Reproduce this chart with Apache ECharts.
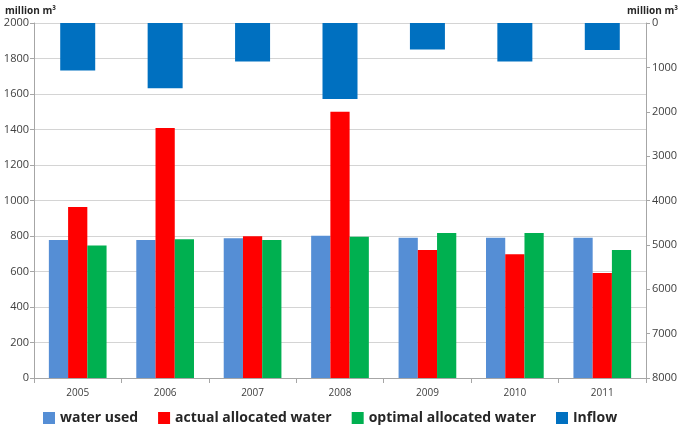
<!DOCTYPE html>
<html>
<head>
<meta charset="utf-8">
<script src="https://cdn.jsdelivr.net/npm/echarts@6/dist/echarts.min.js"></script>
<style>html,body{margin:0;padding:0;background:#fff;}#c{width:685px;height:428px;}</style>
</head>
<body>
<div id="c"></div>
<script>
var years = ['2005','2006','2007','2008','2009','2010','2011'];
var waterUsed = [778, 778, 787, 802, 790, 790, 790];
var actualAllocated = [963, 1408, 798, 1500, 721, 697, 592];
var optimalAllocated = [746, 781, 777, 796, 817, 817, 721];
var inflow = [1070, 1470, 870, 1710, 595, 870, 610];
var leftTicks = {min: 0, max: 2000, interval: 200};
var rightTicks = {min: 0, max: 8000, interval: 1000};

var chart = echarts.init(document.getElementById('c'), null, {renderer: 'canvas'});
var font = 'Open Sans, Liberation Sans, sans-serif';
var axisColor = '#a6a6a6';
var labelColor = '#404040';
var plain = function (v) { return String(v); };
chart.setOption({
  animation: false,
  backgroundColor: '#fff',
  title: [
    {text: 'million m³', left: 0, top: 1, textStyle: {fontSize: 10, fontWeight: 'bold', color: '#262626', fontFamily: font}},
    {text: 'million m³', right: 2, top: 1, textStyle: {fontSize: 10, fontWeight: 'bold', color: '#262626', fontFamily: font}}
  ],
  grid: {left: 34, right: 39, top: 23, bottom: 50, containLabel: false},
  legend: {
    top: 406, left: 38, itemWidth: 12, itemHeight: 12, itemGap: 20,
    icon: 'rect',
    textStyle: {fontSize: 14, fontWeight: 'bold', color: '#262626', fontFamily: font},
    data: ['water used', 'actual allocated water', 'optimal allocated water', 'Inflow']
  },
  xAxis: [
    {type: 'category', data: years, gridIndex: 0,
     axisLine: {lineStyle: {color: axisColor}},
     axisTick: {show: true, length: 5, lineStyle: {color: axisColor}},
     axisLabel: {color: labelColor, fontSize: 10, margin: 10, fontFamily: font}},
    {type: 'category', data: years, gridIndex: 0, show: false}
  ],
  yAxis: [
    {type: 'value', min: leftTicks.min, max: leftTicks.max, interval: leftTicks.interval,
     axisLine: {show: true, lineStyle: {color: axisColor}},
     axisTick: {show: true, length: 4, lineStyle: {color: axisColor}},
     axisLabel: {color: labelColor, fontSize: 11, margin: 5, fontFamily: font, formatter: plain},
     splitLine: {lineStyle: {color: '#d4d4d4'}}},
    {type: 'value', inverse: true, min: rightTicks.min, max: rightTicks.max, interval: rightTicks.interval,
     position: 'right',
     axisLine: {show: true, lineStyle: {color: axisColor}},
     axisTick: {show: true, length: 4, lineStyle: {color: axisColor}},
     axisLabel: {color: labelColor, fontSize: 11, margin: 6, fontFamily: font, formatter: plain},
     splitLine: {show: false}}
  ],
  series: [
    {name: 'water used', type: 'bar', xAxisIndex: 0, yAxisIndex: 0, data: waterUsed,
     barGap: '0%', barCategoryGap: '34%', itemStyle: {color: '#558ed5'}},
    {name: 'actual allocated water', type: 'bar', xAxisIndex: 0, yAxisIndex: 0, data: actualAllocated,
     barGap: '0%', barCategoryGap: '34%', itemStyle: {color: '#ff0000'}},
    {name: 'optimal allocated water', type: 'bar', xAxisIndex: 0, yAxisIndex: 0, data: optimalAllocated,
     barGap: '0%', barCategoryGap: '34%', itemStyle: {color: '#00b050'}},
    {name: 'Inflow', type: 'bar', xAxisIndex: 1, yAxisIndex: 1, data: inflow,
     barWidth: 35, itemStyle: {color: '#0070c0'}}
  ]
});
</script>
</body>
</html>
